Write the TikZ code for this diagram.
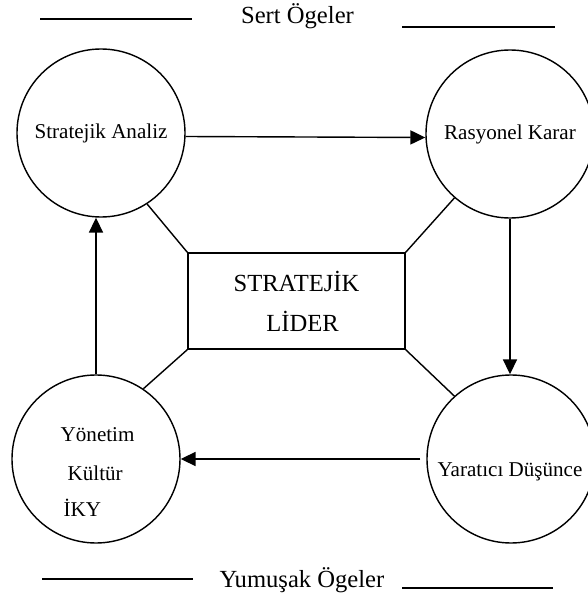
\documentclass[tikz,border=0pt]{standalone}
\usepackage{fontspec}
\setmainfont{Liberation Serif}
\usetikzlibrary{arrows.meta}
\begin{document}
\begin{tikzpicture}[line width=0.8pt,
  yazi/.style={font=\fontsize{12}{14}\selectfont,inner sep=0pt},
  buyuk/.style={font=\fontsize{14}{16}\selectfont,inner sep=0pt},
  oge/.style={draw,circle,minimum size=3.36cm,yazi},
  ok/.style={-{Triangle[length=8.5pt,width=8pt]}}]
\useasboundingbox (0,0) rectangle (11.74,12);
\foreach \xa/\xb/\y in {0.80/3.84/11.62,8.04/11.10/11.46,0.84/3.86/0.42,8.04/11.06/0.24}
  \draw (\xa,\y) -- (\xb,\y);
\node[buyuk] (sert) at (5.95,11.68) {Sert Ögeler};
\node[buyuk] (yumusak) at (6.04,0.40) {Yumuşak Ögeler};

\node[oge] (sa) at (2.02,9.34) {Stratejik Analiz};
\node[oge] (rk) at (10.20,9.32) {Rasyonel Karar};
\node[oge] (yd) at (10.22,2.82) {};
\node[yazi] (ydyazi) at (10.20,2.56) {Yaratıcı Düşünce};
\node[oge] (yk) at (1.92,2.82) {};
\node[yazi,anchor=west] (yonetim) at (1.20,3.30) {Yönetim};
\node[yazi,anchor=west] (kultur) at (1.34,2.54) {Kültür};
\node[yazi,anchor=west] (iky) at (1.26,1.84) {İKY};

\node[draw,minimum width=4.34cm,minimum height=1.92cm,align=center,buyuk] (lider) at (5.93,5.98)
  {STRATEJİK\\[6.8pt]\hspace*{0.24cm}LİDER};

\draw[ok] ([yshift=-0.07cm]sa.east) -- ([yshift=-0.07cm]rk.west);
\draw[ok] (rk.south) -- (rk.south |- yd.north);
\draw[ok,shorten <=0.12cm] (yd.west) -- (yk.east);
\draw[ok] (yk.north) -- (yk.north |- sa.south);

\draw (lider.north west) -- (sa.-57);
\draw (lider.north east) -- (rk.229);
\draw (lider.south west) -- (yk.56);
\draw (lider.south east) -- (yd.132);
\end{tikzpicture}
\end{document}
